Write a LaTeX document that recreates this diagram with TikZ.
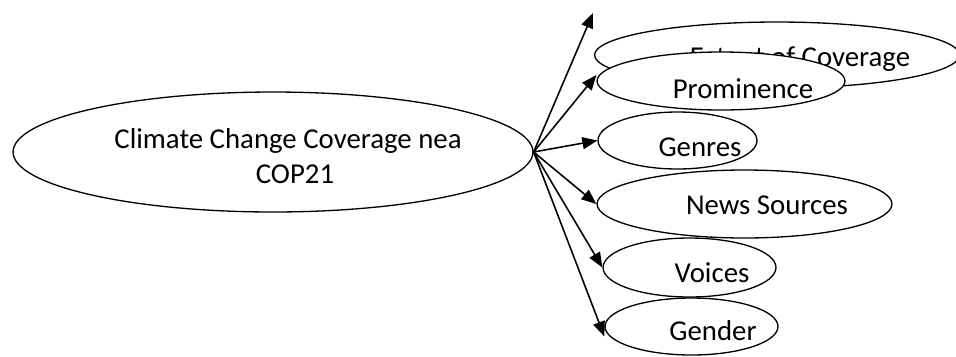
\documentclass[tikz,border=0pt]{standalone}
\usepackage{fontspec}
\setmainfont{Carlito}
\usetikzlibrary{shapes.geometric,arrows.meta}

\begin{document}
\begin{tikzpicture}[
            x=0.02cm, y=-0.02cm,
            oval/.style={ellipse, draw, line width=0.75pt, fill=white, inner sep=0pt},
            lbl/.style={font=\fontsize{16.4}{20}\selectfont, inner sep=0pt, anchor=base},
            arrow/.style={-{Triangle[length=0.3cm, width=0.24cm]}, line width=0.9pt}
        ]
            \useasboundingbox (0,0) rectangle (956,356);

            % Central topic
            \node[oval, minimum width=10.4cm, minimum height=2.4cm] (main) at (273,152) {};
            \node[lbl] (title1) at (288,148) {Climate Change Coverage nea};
            \node[lbl] (title2) at (295,183) {COP21};

            % Sub topics
            \node[oval, minimum width=7.3cm, minimum height=1.32cm] (extent) at (777,55) {};
            \node[lbl] (extenttxt) at (800,66) {Extent of Coverage};
            \node[oval, minimum width=4.96cm, minimum height=1.16cm] (prom) at (721,81) {};
            \node[lbl] (promtxt) at (743,98) {Prominence};
            \node[oval, minimum width=3.18cm, minimum height=1.14cm] (genres) at (677.5,140.5) {};
            \node[lbl] (genrestxt) at (700,156) {Genres};
            \node[oval, minimum width=5.9cm, minimum height=1.36cm] (news) at (744.5,204) {};
            \node[lbl] (newstxt) at (767,214) {News Sources};
            \node[oval, minimum width=3.46cm, minimum height=1.18cm] (voices) at (689.5,267.5) {};
            \node[lbl] (voicestxt) at (712,282) {Voices};
            \node[oval, minimum width=3.46cm, minimum height=1.14cm] (gender) at (691.5,326.5) {};
            \node[lbl] (gendertxt) at (713,340) {Gender};

            % Loose arrow end
            \coordinate (free) at (593,13);

            % Arrows
            \draw[arrow] (main.east) -- (free);
            \draw[arrow] (main.east) -- ([yshift=0.12cm]prom.west);
            \draw[arrow] (main.east) -- (genres.west);
            \draw[arrow] (main.east) -- (news.west);
            \draw[arrow] (main.east) -- (voices.west);
            \draw[arrow] (main.east) -- ([yshift=-0.2cm]gender.west);
        \end{tikzpicture}
\end{document}
